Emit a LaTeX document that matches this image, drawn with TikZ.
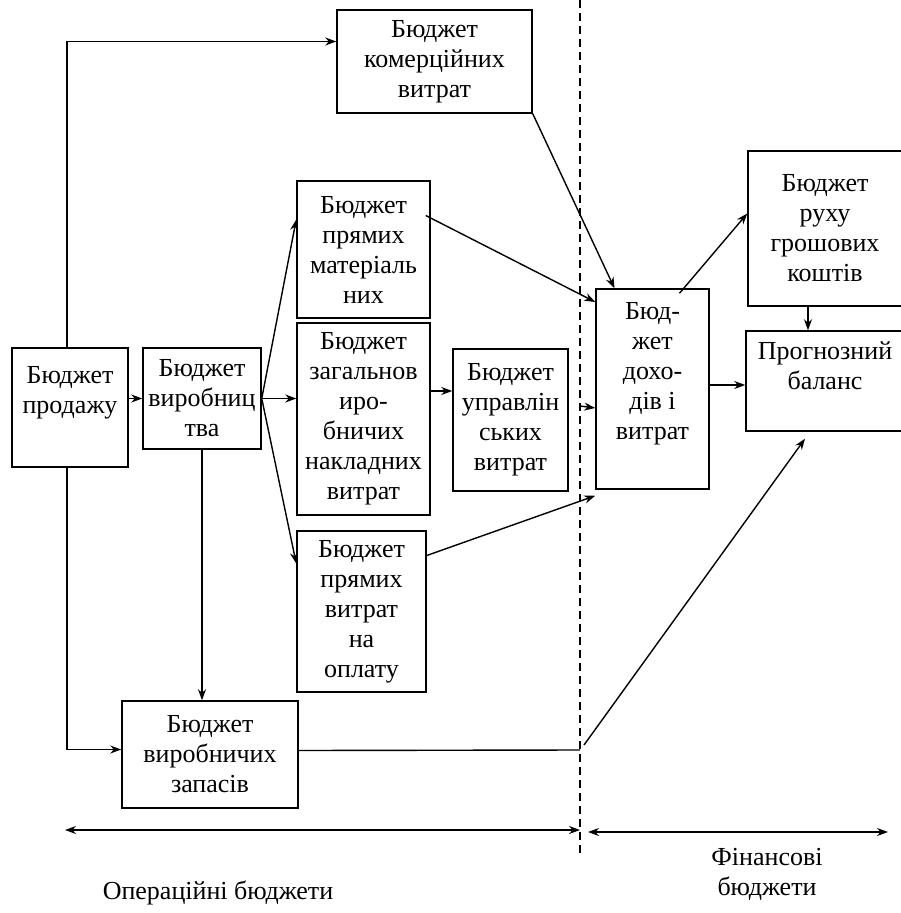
\documentclass[tikz,border=0pt]{standalone}
\usepackage{fontspec}
\setmainfont{Liberation Serif}
\usetikzlibrary{arrows.meta,calc}
\tikzset{
	bx/.style={draw, line width=1.5pt, inner sep=0pt},
	txt/.style={align=center, inner sep=0pt, font=\fontsize{26}{30}\selectfont},
	arr/.style={line width=1.4pt, -{Stealth[length=11pt,width=8pt]}},
	darr/.style={line width=1.4pt, {Stealth[length=11pt,width=8pt]}-{Stealth[length=11pt,width=8pt]}},
	ln/.style={line width=1.4pt},
	divider/.style={line width=1.2pt, dash pattern=on 8pt off 5pt}
}
\begin{document}
\begin{tikzpicture}[x=1pt,y=-1pt]
			\useasboundingbox (0,0) rectangle (901,913);
			\node[bx, minimum width=116pt, minimum height=119pt, label={[txt,yshift=15pt]center:Бюджет\\продажу}] (prod) at (70,407.5) {};
			\node[bx, minimum width=118pt, minimum height=101pt, label={[txt]center:Бюджет\\виробниц\\тва}] (vyr) at (202,398.5) {};
			\node[bx, minimum width=195pt, minimum height=103pt, label={[txt]center:Бюджет\\комерційних\\витрат}] (kom) at (434.5,61.5) {};
			\node[bx, minimum width=133pt, minimum height=137pt, label={[txt]center:Бюджет\\прямих\\матеріаль\\них}] (mat) at (363.5,249.5) {};
			\node[bx, minimum width=133pt, minimum height=192pt, label={[txt]center:Бюджет\\загальнов\\иро-\\бничих\\накладних\\витрат}] (zag) at (363.5,419) {};
			\node[bx, minimum width=115pt, minimum height=142pt, label={[txt]center:Бюджет\\управлін\\ських\\витрат}] (upr) at (510.5,420) {};
			\node[bx, minimum width=129pt, minimum height=161pt, label={[txt]center:Бюджет\\прямих\\витрат\\на\\оплату}] (opl) at (361.5,611.5) {};
			\node[bx, minimum width=176pt, minimum height=107pt, label={[txt]center:Бюджет\\виробничих\\запасів}] (zap) at (210,754.5) {};
			\node[bx, minimum width=113pt, minimum height=200pt, label={[txt,yshift=15pt]center:Бюд-\\жет\\дохо-\\дів і\\витрат}] (doh) at (652.5,389) {};
			\node[bx, minimum width=154pt, minimum height=155pt, label={[txt]center:Бюджет\\руху\\грошових\\коштів}] (ruh) at (825,228.5) {};
			\node[bx, minimum width=158pt, minimum height=100pt, label={[txt,yshift=15pt]center:Прогнозний\\баланс}] (prog) at (825,381) {};
			\draw[divider] (580,0) -- (580,857);
			\draw[arr] ([xshift=-3pt]prod.north) |- ([yshift=20pt]kom.west);
			\draw[arr] (prod.east |- vyr.west) -- (vyr.west);
			\draw[arr] ([xshift=-3pt]prod.south) |- ([yshift=5pt]zap.west);
			\draw[arr] (vyr.south) -- (vyr.south |- zap.north);
			\draw[arr] (vyr.east) -- ([yshift=30pt]mat.west);
			\draw[arr] (vyr.east) -- (vyr.east -| zag.west);
			\draw[arr] (vyr.east) -- ([yshift=48pt]opl.west);
			\draw[arr] ([yshift=28pt]zag.east) -- ([yshift=28pt]zag.east -| upr.west);
			\draw[arr] ([xshift=-5pt,yshift=34pt]mat.east) -- ([yshift=87pt]doh.west);
			\draw[arr] (kom.south east) -- ([xshift=-38pt]doh.north);
			\coordinate (u1) at (580,406);
			\draw[arr] (u1) -- ([yshift=-19pt]doh.west);
			\draw[arr] ([yshift=56pt]opl.east) -- ([yshift=-6pt]doh.south west);
			\draw[arr] ([xshift=27pt,yshift=-5pt]doh.north) -- ([yshift=15pt]ruh.west);
			\draw[arr] ([xshift=-17pt]ruh.south) -- ([xshift=-17pt]prog.north);
			\draw[arr] ([yshift=4pt]doh.east) -- ([yshift=4pt]doh.east -| prog.west);
			\coordinate (z1) at (580,750);
			\coordinate (z2) at (584,745);
			\draw[ln] ([yshift=4pt]zap.east) -- (z1);
			\draw[arr] (z2) -- ([xshift=-20pt,yshift=-7pt]prog.south);
			\coordinate (o1) at (65,830);
			\coordinate (o2) at (580,830);
			\coordinate (f1) at (588,832);
			\coordinate (f2) at (888,832);
			\draw[darr] (o1) -- (o2);
			\draw[darr] (f1) -- (f2);
			\node[txt] (oper) at (218,893) {Операційні бюджети};
			\node[txt] (fin) at (767,874) {Фінансові\\бюджети};
\end{tikzpicture}
\end{document}
